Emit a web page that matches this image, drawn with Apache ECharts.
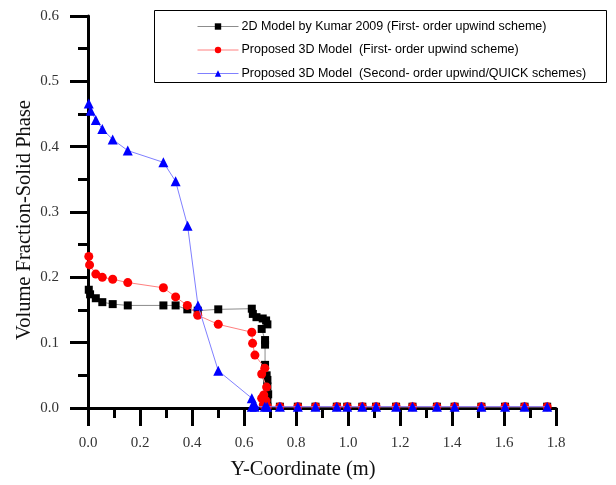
<!DOCTYPE html>
<html>
<head>
<meta charset="utf-8">
<script src="https://cdn.jsdelivr.net/npm/echarts@6/dist/echarts.min.js"></script>
<style>
html,body{margin:0;padding:0;background:#fff;}
#chart{width:616px;height:485px;}
</style>
</head>
<body>
<div id="chart"></div>
<script>
// ---- data ----
var seriesNames = [
  '2D Model by Kumar 2009 (First- order upwind scheme)',
  'Proposed 3D Model  (First- order upwind scheme)',
  'Proposed 3D Model  (Second- order upwind/QUICK schemes)'
];
var kumarX = [0.003,0.008,0.030,0.055,0.095,0.153,0.290,0.337,0.382,0.422,0.501,0.630,0.634,0.648,0.672,0.685,0.690,0.668,0.681,0.681,0.681,0.687,0.690,0.690,0.693,0.690,0.690];
var kumarY = [0.181,0.174,0.168,0.162,0.159,0.157,0.157,0.157,0.151,0.149,0.151,0.152,0.144,0.139,0.137,0.134,0.128,0.121,0.104,0.097,0.066,0.050,0.043,0.033,0.021,0.010,0.002];
var prop1X = [0.003,0.006,0.030,0.055,0.095,0.153,0.290,0.337,0.382,0.422,0.501,0.630,0.633,0.642,0.680,0.668,0.687,0.676,0.668,0.685,0.674,0.687,0.690];
var prop1Y = [0.232,0.219,0.205,0.200,0.197,0.192,0.184,0.170,0.157,0.142,0.128,0.116,0.099,0.081,0.061,0.052,0.032,0.020,0.015,0.011,0.005,0.003,0.002];
var prop2X = [0.003,0.010,0.030,0.055,0.095,0.153,0.290,0.337,0.383,0.423,0.501,0.630,0.640,0.630,0.641,0.680,0.689];
var prop2Y = [0.466,0.455,0.441,0.427,0.411,0.394,0.376,0.347,0.279,0.157,0.057,0.015,0.006,0.002,0.002,0.002,0.002];
var tailX = [0.738,0.807,0.875,0.957,0.997,1.055,1.108,1.185,1.248,1.342,1.410,1.513,1.604,1.679,1.766];
var tailY = [0.002,0.002,0.002,0.002,0.002,0.002,0.002,0.002,0.002,0.002,0.002,0.002,0.002,0.002,0.002];
var xTicks = {min:0, max:1.8, interval:0.2};
var yTicks = {min:0, max:0.6, interval:0.1};
var xTitle = 'Y-Coordinate (m)';
var yTitle = 'Volume Fraction-Solid Phase';

function pairs(xs, ys){
  var out = [];
  for (var i=0;i<xs.length;i++) out.push([xs[i], ys[i]]);
  for (var j=0;j<tailX.length;j++) out.push([tailX[j], tailY[j]]);
  return out;
}

var serif = '"Liberation Serif", "Times New Roman", serif';
var sans = '"Liberation Sans", Arial, sans-serif';

function axisCommon(t){
  return {
    type:'value', min:t.min, max:t.max, interval:t.interval,
    axisLine:{show:true, onZero:false, lineStyle:{color:'#000', width:3}},
    axisTick:{show:true, inside:false, length:18, lineStyle:{color:'#000', width:3}},
    minorTick:{show:true, splitNumber:2, length:10, lineStyle:{color:'#000', width:3}},
    splitLine:{show:false},
    minorSplitLine:{show:false},
    axisLabel:{color:'#333', fontFamily:serif, fontSize:15, formatter:function(v){return v.toFixed(1);}}
  };
}

var xAxis = axisCommon(xTicks); xAxis.axisLabel.margin = 28;
var yAxis = axisCommon(yTicks); yAxis.axisLabel.margin = 29;

var chart = echarts.init(document.getElementById('chart'), null, {renderer:'canvas'});
chart.setOption({
  animation:false,
  backgroundColor:'#fff',
  grid:{left:88, top:16, right:60, bottom:77, containLabel:false},
  xAxis: xAxis,
  yAxis: yAxis,
  legend:{
    orient:'vertical', left:197, top:20, padding:0,
    itemWidth:41, itemHeight:8, itemGap:10.5,
    lineStyle:{width:1},
    textStyle:{fontFamily:sans, fontSize:12.5, color:'#000', padding:[0,0,0,-2]},
    data:seriesNames
  },
  graphic:[
    {type:'rect', shape:{x:154.5, y:10.5, width:452, height:72}, style:{fill:'none', stroke:'#000', lineWidth:1}, z:0},
    {type:'text', x:303, y:470, style:{text:xTitle, fontFamily:serif, fontSize:20.5, fill:'#111', textAlign:'center', textVerticalAlign:'middle'}},
    {type:'text', x:25, y:220, rotation:Math.PI/2, style:{text:yTitle, fontFamily:serif, fontSize:20.5, fill:'#111', textAlign:'center', textVerticalAlign:'middle'}}
  ],
  series:[
    {name:seriesNames[0], type:'line', data:pairs(kumarX,kumarY), symbol:'rect', symbolSize:8, clip:false,
     lineStyle:{color:'#8c8c8c', width:1}, itemStyle:{color:'#000'}, z:3},
    {name:seriesNames[1], type:'line', data:pairs(prop1X,prop1Y), symbol:'circle', symbolSize:9, clip:false,
     lineStyle:{color:'#ff8080', width:1}, itemStyle:{color:'#ff0000'}, z:4},
    {name:seriesNames[2], type:'line', data:pairs(prop2X,prop2Y), symbol:'triangle', symbolSize:10, clip:false,
     lineStyle:{color:'#8080ff', width:1}, itemStyle:{color:'#0000ff'}, z:5}
  ]
});
</script>
</body>
</html>
